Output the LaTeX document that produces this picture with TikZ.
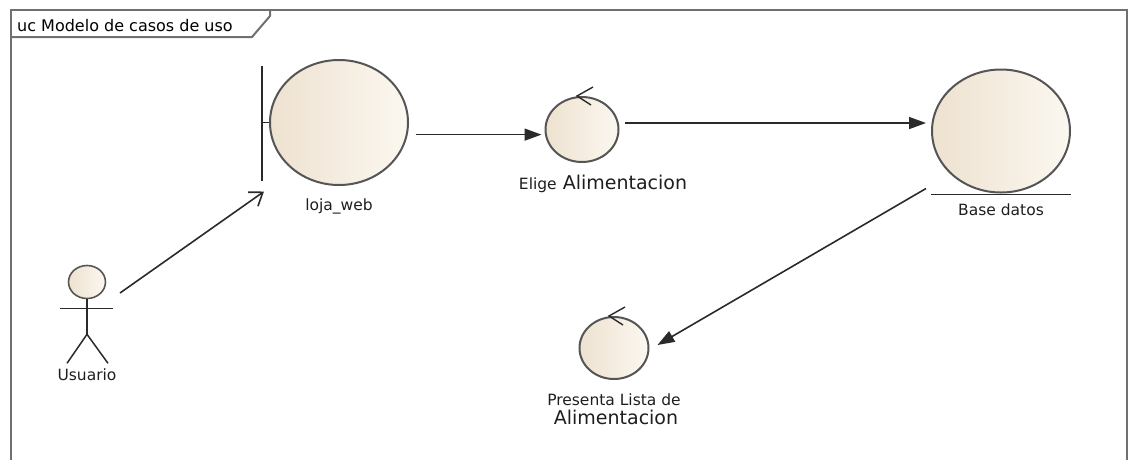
\documentclass[tikz,border=0pt]{standalone}
\usepackage{fontspec}
\setmainfont{DejaVu Sans}
\usepackage{xcolor}
\usetikzlibrary{arrows.meta}
\usetikzlibrary{positioning, calc}
\usetikzlibrary{shapes.geometric}

\definecolor{ucLine}{HTML}{555555}
\definecolor{ucFrame}{HTML}{707070}
\definecolor{ucArrow}{HTML}{2A2A2A}
\definecolor{ucText}{HTML}{1E1E1E}
\definecolor{ucDark}{HTML}{EEE2D0}
\definecolor{ucLight}{HTML}{FBF7F0}

\tikzset{
  ucbody/.style={ellipse, draw=ucLine, line width=2pt, left color=ucDark, right color=ucLight, inner sep=0pt},
  uctext/.style={font=\fontsize{15.5}{18}\selectfont, text=ucText, inner sep=0pt},
  uctextbig/.style={font=\fontsize{19}{22}\selectfont, text=ucText, inner sep=0pt},
  flow/.style={-{Triangle[length=17pt,width=12pt]}, line width=1.6pt, draw=ucArrow},
  assoc/.style={-{Straight Barb[length=12pt,width=17pt]}, line width=1.6pt, draw=ucArrow},
}

\begin{document}
\begin{tikzpicture}[x=1pt,y=-1pt]
 \useasboundingbox (0,0) rectangle (1130,459);
 \clip (0,0) rectangle (1130,459);

 %frame:
 \draw[ucFrame, line width=2pt] (11,10) rectangle (1127,475);
 \draw[ucFrame, line width=2pt] (11,37) -- (252,37) -- (270,16) -- (270,10);
 \node[anchor=base west, font=\fontsize{16}{18}\selectfont, inner sep=0pt] (title) at (17,31) {uc Modelo de casos de uso};

 %elements:
 \node[ucbody, minimum width=138pt, minimum height=125pt] (loja) at (339,122.5) {};
 \node[ucbody, minimum width=73pt, minimum height=65pt] (elige) at (582,129.5) {};
 \node[ucbody, minimum width=138pt, minimum height=123pt] (base) at (1001,131) {};
 \node[ucbody, minimum width=69pt, minimum height=62pt] (pres) at (614,348) {};
 \node[ucbody, line width=1.6pt, minimum width=37pt, minimum height=33pt] (usr) at (87,282) {};

 %boundary bar:
 \coordinate (barT) at ($(loja.west)+(-7,-57)$);
 \coordinate (barB) at ($(loja.west)+(-7,58)$);
 \draw[ucArrow, line width=1.8pt] (barT) -- (barB);
 \draw[ucArrow, line width=1.2pt] ($(loja.west)+(-7,0)$) -- (loja.west);

 %entity line:
 \coordinate (baseSW) at (base.south -| base.west);
 \coordinate (baseSE) at (base.south -| base.east);
 \draw[ucArrow, line width=1.8pt] ([yshift=-1pt]baseSW) -- ([yshift=-1pt]baseSE);

 %control arrows:
 \foreach \c in {elige, pres}{
   \draw[ucArrow, line width=1.4pt] ($(\c.north)+(11,-9)$) -- ($(\c.north)+(-5,0)$) -- ($(\c.north)+(9,9)$);
 }

 %actor:
 \coordinate (hip) at ($(usr.south)+(0,35)$);
 \draw[ucArrow, line width=1.5pt] (usr.south) -- (hip);
 \draw[ucArrow, line width=1.5pt] ($(usr.south)+(-27,9)$) -- ($(usr.south)+(26,9)$);
 \draw[ucArrow, line width=1.5pt] ($(hip)+(-20,29)$) -- (hip) -- ($(hip)+(21,29)$);

 %labels:
 \node[uctext, below=13pt of loja] (lojaLbl) {loja\_web};
 \node[uctextbig, below=12pt of elige, xshift=21pt] (eligeLbl) {{\fontsize{15.5}{18}\selectfont Elige} Alimentacion};
 \node[uctext, below=10pt of base] (baseLbl) {Base datos};
 \node[uctext, below=14pt of pres] (presLbl) {Presenta Lista de};
 \node[uctextbig, below=3pt of presLbl, xshift=2pt] (presLbl2) {Alimentacion};
 \node[uctext, below=69pt of usr.south] (usrLbl) {Usuario};

 %connectors:
 \coordinate (lojaIn) at ($(barB)+(2,11)$);
 \draw[assoc] ($(usr)+(33,11)$) -- (lojaIn);
 \draw[flow] ([xshift=8pt]loja.-10) -- ([shift={(-3,0)}]elige.west |- loja.-10);
 \draw[flow] ([xshift=6pt]elige.10) -- ([shift={(-5,0)}]base.west |- elige.10);
 \draw[flow] ([shift={(-5,-5)}]baseSW) -- ([shift={(8,-3)}]pres.east);
\end{tikzpicture}
\end{document}
